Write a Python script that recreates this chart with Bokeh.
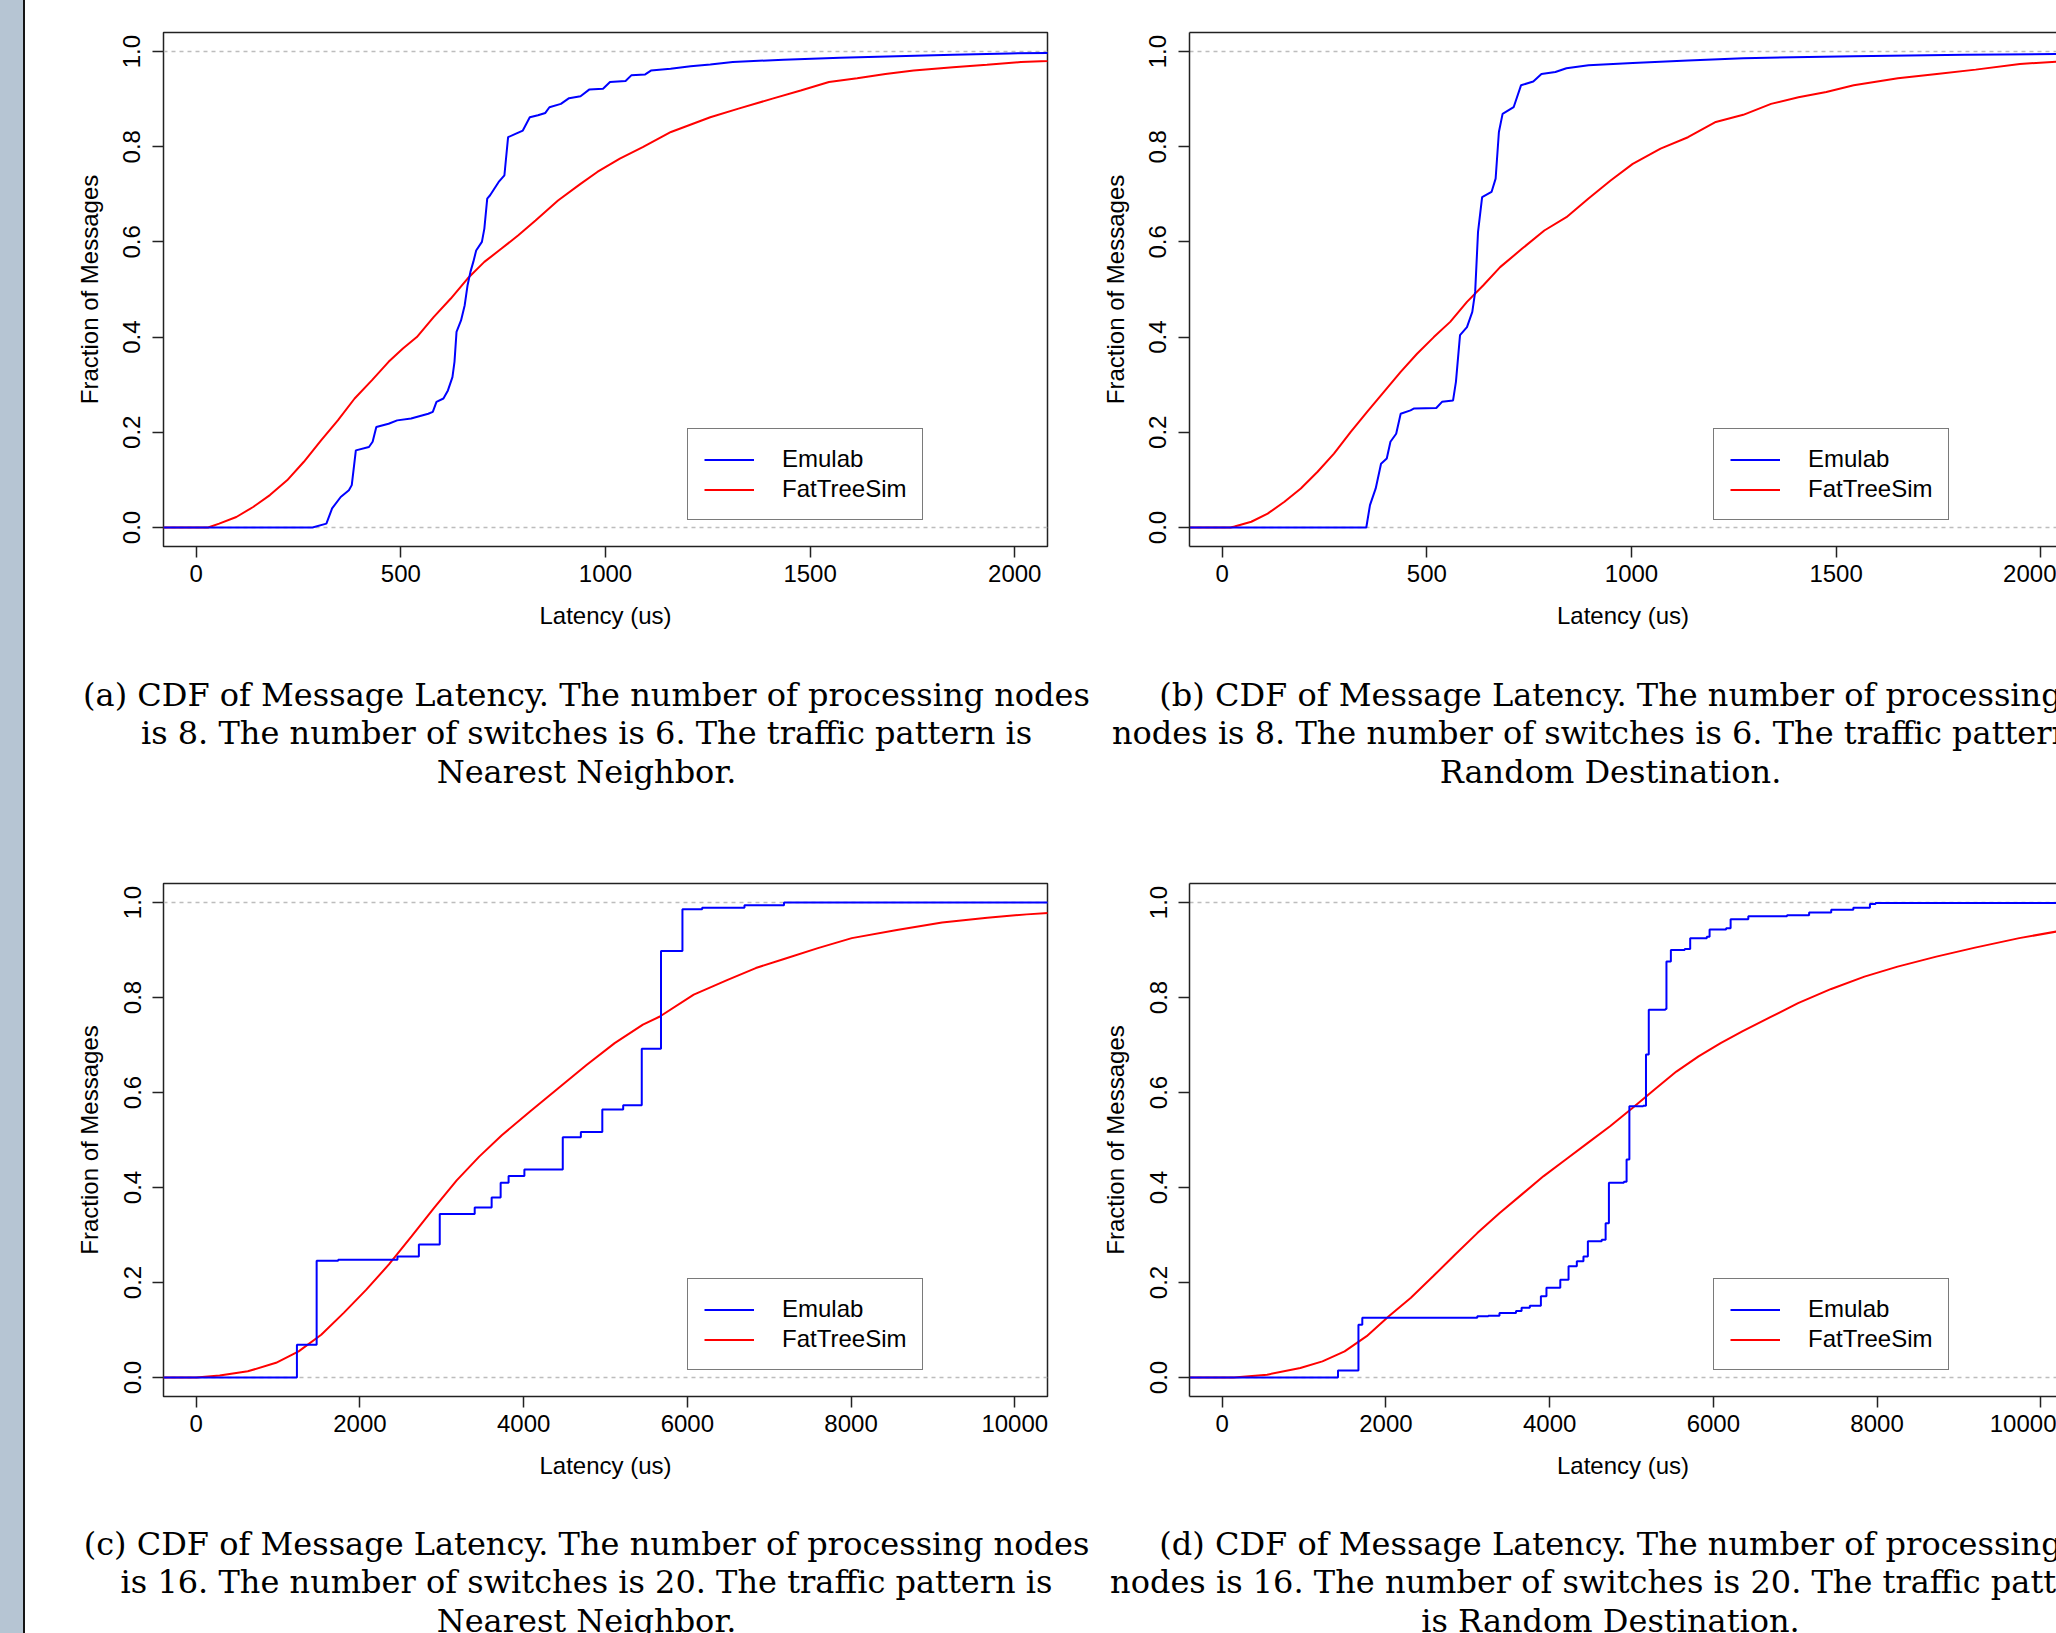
from bokeh.plotting import figure
from bokeh.models import (Range1d, FixedTicker, PrintfTickFormatter, Span, Legend,
                          LegendItem, LinearAxis, Div)
from bokeh.layouts import row, column
from bokeh.embed import file_html
from bokeh.resources import INLINE
from bokeh.core.properties import value

# ---------------- data ----------------
series_names = ["Emulab", "FatTreeSim"]
y_ticks = [0.0, 0.2, 0.4, 0.6, 0.8, 1.0]
x_ticks_small = [0, 500, 1000, 1500, 2000]
x_ticks_large = [0, 2000, 4000, 6000, 8000, 10000]

# (a) 8 nodes, 6 switches, Nearest Neighbor
a_emu_x = [-100, 284, 318, 332, 353, 373, 380, 390, 422, 431, 440, 470, 491, 525, 567, 578, 587, 604,
           615, 626, 631, 636, 647, 656, 663, 670, 677, 684, 698, 704, 711, 718, 739, 753, 762, 780,
           798, 815, 835, 853, 863, 891, 911, 939, 960, 994, 1011, 1049, 1063, 1097, 1111, 1159,
           1208, 1256, 1311, 1435, 1573, 1711, 1849, 1987, 2081, 2200]
a_emu_y = [0, 0, 0.008, 0.04, 0.064, 0.078, 0.089, 0.162, 0.169, 0.18, 0.211, 0.218, 0.225, 0.229,
           0.239, 0.243, 0.264, 0.271, 0.288, 0.316, 0.348, 0.411, 0.435, 0.467, 0.509, 0.537, 0.558,
           0.582, 0.600, 0.628, 0.691, 0.698, 0.726, 0.740, 0.820, 0.827, 0.834, 0.862, 0.866, 0.871,
           0.883, 0.890, 0.902, 0.906, 0.920, 0.922, 0.936, 0.938, 0.950, 0.952, 0.960, 0.964, 0.969,
           0.973, 0.978, 0.983, 0.987, 0.990, 0.993, 0.996, 0.997, 0.998]
a_fts_x = [-100, 29, 56, 98, 139, 180, 222, 263, 305, 346, 387, 429, 470, 505, 539, 580, 622, 663,
           704, 746, 787, 829, 884, 939, 980, 1035, 1091, 1160, 1256, 1325, 1408, 1477, 1546, 1615,
           1684, 1753, 1849, 1932, 2015, 2081, 2200]
a_fts_y = [0, 0, 0.008, 0.022, 0.043, 0.068, 0.099, 0.138, 0.183, 0.225, 0.271, 0.309, 0.348, 0.376,
           0.400, 0.442, 0.481, 0.523, 0.558, 0.586, 0.614, 0.645, 0.687, 0.722, 0.747, 0.775, 0.799,
           0.831, 0.862, 0.880, 0.901, 0.918, 0.936, 0.944, 0.953, 0.960, 0.967, 0.972, 0.978, 0.980,
           0.984]

# (b) 8 nodes, 6 switches, Random Destination
b_emu_x = [-100, 352, 361, 375, 388, 402, 411, 425, 436, 460, 469, 523, 537, 564, 571, 581, 598, 611,
           618, 625, 635, 658, 668, 676, 685, 712, 730, 760, 780, 814, 841, 895, 1003, 1138, 1273,
           1543, 1814, 2040, 2200]
b_emu_y = [0, 0, 0.047, 0.082, 0.134, 0.145, 0.180, 0.197, 0.239, 0.246, 0.250, 0.251, 0.264, 0.267,
           0.306, 0.404, 0.421, 0.453, 0.495, 0.621, 0.694, 0.705, 0.733, 0.831, 0.869, 0.883, 0.929,
           0.937, 0.953, 0.957, 0.965, 0.971, 0.976, 0.981, 0.986, 0.990, 0.993, 0.995, 0.996]
b_fts_x = [-100, 20, 30, 71, 111, 152, 192, 233, 273, 314, 354, 395, 436, 476, 517, 557, 598, 638,
           679, 733, 787, 841, 895, 949, 1003, 1071, 1138, 1206, 1273, 1341, 1408, 1476, 1543, 1651,
           1746, 1841, 1949, 2041, 2200]
b_fts_y = [0, 0, 0.002, 0.012, 0.029, 0.054, 0.082, 0.117, 0.155, 0.201, 0.243, 0.285, 0.327, 0.365,
           0.400, 0.432, 0.474, 0.509, 0.547, 0.586, 0.624, 0.652, 0.691, 0.729, 0.764, 0.796, 0.820,
           0.852, 0.867, 0.890, 0.904, 0.915, 0.929, 0.944, 0.953, 0.962, 0.974, 0.979, 0.985]

# (c) 16 nodes, 20 switches, Nearest Neighbor (Emulab is a step CDF)
c_emu_x = [-500, 1230, 1471, 1734, 2458, 2720, 2975, 3402, 3609, 3719, 3816, 4009, 4478, 4699, 4961,
           5216, 5443, 5678, 5940, 6181, 6698, 7181, 11000]
c_emu_y = [0, 0.069, 0.246, 0.248, 0.255, 0.280, 0.344, 0.358, 0.379, 0.410, 0.424, 0.438, 0.506,
           0.517, 0.564, 0.573, 0.692, 0.898, 0.986, 0.989, 0.994, 1.0, 1.0]
c_fts_x = [-500, 0, 286, 630, 975, 1251, 1527, 1802, 2078, 2354, 2630, 2906, 3182, 3457, 3733, 4078,
           4423, 4768, 5112, 5457, 5664, 6078, 6492, 6836, 7181, 7595, 8009, 8560, 9112, 9664, 10146,
           10408, 11000]
c_fts_y = [0, 0, 0.004, 0.013, 0.031, 0.055, 0.090, 0.136, 0.185, 0.238, 0.297, 0.357, 0.415, 0.465,
           0.51, 0.56, 0.609, 0.658, 0.704, 0.743, 0.760, 0.806, 0.837, 0.862, 0.881, 0.904, 0.925,
           0.942, 0.958, 0.968, 0.975, 0.978, 0.983]

# (d) 16 nodes, 20 switches, Random Destination (Emulab is a step CDF)
d_emu_x = [-500, 1414, 1664, 1711, 3116, 3251, 3387, 3589, 3657, 3758, 3893, 3961, 4130, 4231, 4332,
           4413, 4467, 4636, 4684, 4724, 4907, 4940, 4974, 5143, 5177, 5211, 5414, 5427, 5481, 5650,
           5717, 5920, 5954, 6156, 6211, 6427, 6900, 7170, 7440, 7710, 7913, 7981, 11000]
d_emu_y = [0, 0.015, 0.111, 0.126, 0.129, 0.130, 0.136, 0.140, 0.147, 0.151, 0.171, 0.189, 0.206,
           0.234, 0.245, 0.255, 0.287, 0.290, 0.325, 0.410, 0.412, 0.459, 0.571, 0.572, 0.680, 0.774,
           0.776, 0.876, 0.900, 0.902, 0.925, 0.928, 0.943, 0.946, 0.965, 0.971, 0.973, 0.979, 0.985,
           0.989, 0.997, 0.999, 1.0]
d_fts_x = [-500, 143, 549, 954, 1224, 1495, 1765, 2035, 2305, 2576, 2846, 3116, 3386, 3657, 3927,
           4197, 4467, 4738, 5008, 5278, 5548, 5819, 6089, 6359, 6630, 7035, 7440, 7846, 8251, 8724,
           9197, 9737, 10197, 11000]
d_fts_y = [0, 0, 0.006, 0.020, 0.034, 0.055, 0.087, 0.129, 0.168, 0.213, 0.259, 0.304, 0.346, 0.385,
           0.424, 0.459, 0.494, 0.529, 0.567, 0.606, 0.644, 0.676, 0.704, 0.729, 0.753, 0.788, 0.818,
           0.844, 0.865, 0.886, 0.905, 0.925, 0.939, 0.95]

x_label = "Latency (us)"
y_label = "Fraction of Messages"

captions_top = [
    ["(a) CDF of Message Latency. The number of processing nodes",
     "is 8. The number of switches is 6. The traffic pattern is",
     "Nearest Neighbor."],
    ["(b) CDF of Message Latency. The number of processing",
     "nodes is 8. The number of switches is 6. The traffic pattern is",
     "Random Destination."],
]
captions_bottom = [
    ["(c) CDF of Message Latency. The number of processing nodes",
     "is 16. The number of switches is 20. The traffic pattern is",
     "Nearest Neighbor."],
    ["(d) CDF of Message Latency. The number of processing",
     "nodes is 16. The number of switches is 20. The traffic pattern",
     "is Random Destination."],
]

# ---------------- styling / layout constants ----------------
SANS = "Liberation Sans"
FS = "24px"
SERIF = "DejaVu Serif"
CAP_FS = "32px"
BLUE = "#0000ff"
RED = "#ff0000"
FRAME_W = 884          # frame width of an uncut panel
BAR_W = 25
LEFT_W, RIGHT_W = 1055, 976
TOP_H, BOT_H = 650, 640
CAP_TOP_H, CAP_BOT_H = 210, 133


def panel(width, height, mb_left, mb_right, mb_top, mb_bottom, xmax, xticks,
          emu_x, emu_y, fts_x, fts_y, emu_step, cut):
    frame_w = width - mb_left - mb_right
    x0 = -0.04 * xmax
    span = 1.08 * xmax * frame_w / FRAME_W
    p = figure(width=width, height=height,
               x_range=Range1d(x0, x0 + span), y_range=Range1d(-0.04, 1.04),
               output_backend="svg", toolbar_location=None,
               min_border_left=mb_left, min_border_right=mb_right,
               min_border_top=mb_top, min_border_bottom=mb_bottom)
    p.grid.visible = False
    p.background_fill_color = "white"
    p.border_fill_color = "white"

    for ax in (p.xaxis[0], p.yaxis[0]):
        ax.major_label_text_font = SANS
        ax.major_label_text_font_size = FS
        ax.major_label_text_color = "black"
        ax.axis_label_text_font = SANS
        ax.axis_label_text_font_size = FS
        ax.axis_label_text_font_style = "normal"
        ax.axis_label_text_color = "black"
        ax.major_tick_out = 11
        ax.major_tick_in = 0
        ax.major_tick_line_color = "#222222"
        ax.major_tick_line_width = 1.5
        ax.minor_tick_line_color = None
    p.xaxis.ticker = FixedTicker(ticks=xticks)
    p.xaxis.formatter = PrintfTickFormatter(format="%d")
    p.xaxis.axis_label = x_label
    p.xaxis.major_label_standoff = 7
    p.xaxis.axis_label_standoff = 17
    p.yaxis.ticker = FixedTicker(ticks=y_ticks)
    p.yaxis.formatter = PrintfTickFormatter(format="%.1f")
    p.yaxis.major_label_orientation = "vertical"
    p.yaxis.axis_label = y_label
    p.yaxis.major_label_standoff = 12
    p.yaxis.axis_label_standoff = 18

    if cut:
        p.outline_line_color = None
        for ax in (p.xaxis[0], p.yaxis[0]):
            ax.axis_line_color = "#222222"
            ax.axis_line_width = 1.5
        top = LinearAxis(ticker=FixedTicker(ticks=[]), axis_line_color="#222222",
                         axis_line_width=1.5, major_tick_line_color=None,
                         minor_tick_line_color=None, major_label_text_font_size="0px")
        p.add_layout(top, "above")
    else:
        p.outline_line_color = "#222222"
        p.outline_line_width = 1.5
        p.xaxis.axis_line_color = None
        p.yaxis.axis_line_color = None

    for loc in (0.0, 1.0):
        p.add_layout(Span(location=loc, dimension="width", line_color="#bdbdbd",
                          line_dash="4 4", line_width=1.5, level="underlay"))

    r_fts = p.line(fts_x, fts_y, line_color=RED, line_width=2)
    if emu_step:
        r_emu = p.step(emu_x, emu_y, mode="after", line_color=BLUE, line_width=2)
    else:
        r_emu = p.line(emu_x, emu_y, line_color=BLUE, line_width=2)

    legend = Legend(items=[LegendItem(label=series_names[0], renderers=[r_emu]),
                           LegendItem(label=series_names[1], renderers=[r_fts])],
                    location=(524, 26), padding=16, spacing=2, margin=0,
                    glyph_width=50, glyph_height=27, label_height=27, label_standoff=28,
                    label_text_font=SANS, label_text_font_size=FS, label_text_color="black",
                    border_line_color="#7a7a7a", border_line_width=1.3, border_line_alpha=1.0,
                    background_fill_color="white", background_fill_alpha=1.0)
    p.add_layout(legend)
    return p


def caption_fig(width, height, centers, baselines, lines):
    c = figure(width=width, height=height, x_range=Range1d(0, width), y_range=Range1d(height, 0),
               output_backend="svg", toolbar_location=None, x_axis_type=None, y_axis_type=None,
               min_border=0, outline_line_color=None)
    c.grid.visible = False
    xs, ys, ts = [], [], []
    for cx, block in zip(centers, lines):
        for by, t in zip(baselines, block):
            xs.append(cx)
            ys.append(by)
            ts.append(t)
    c.text(x=xs, y=ys, text=ts, text_align="center", text_baseline="alphabetic",
           text_font=value(SERIF), text_font_size=CAP_FS, text_color="black")
    return c


fa = panel(LEFT_W, TOP_H, 138, 33, 32, 104, 2000, x_ticks_small,
           a_emu_x, a_emu_y, a_fts_x, a_fts_y, False, False)
fb = panel(RIGHT_W, TOP_H, 109, 0, 32, 104, 2000, x_ticks_small,
           b_emu_x, b_emu_y, b_fts_x, b_fts_y, False, True)
fc = panel(LEFT_W, BOT_H, 138, 33, 23, 104, 10000, x_ticks_large,
           c_emu_x, c_emu_y, c_fts_x, c_fts_y, True, False)
fd = panel(RIGHT_W, BOT_H, 109, 0, 23, 104, 10000, x_ticks_large,
           d_emu_x, d_emu_y, d_fts_x, d_fts_y, True, True)

cap_centers = [561, 1585]
cap_top = caption_fig(LEFT_W + RIGHT_W, CAP_TOP_H, cap_centers, [44, 82.5, 121], captions_top)
cap_bot = caption_fig(LEFT_W + RIGHT_W, CAP_BOT_H, cap_centers, [43, 81.5, 120], captions_bottom)

total_h = TOP_H + CAP_TOP_H + BOT_H + CAP_BOT_H
bar = Div(text="", width=BAR_W, height=total_h, margin=(0, 0, 0, 0),
          styles={"background": "linear-gradient(to right, #b6c5d3 0px, #b6c5d3 23px, "
                                 "#151515 23px, #151515 25px)"})

main = column(row(fa, fb), cap_top, row(fc, fd), cap_bot)
page = row(bar, main)

open("out.html", "w").write(file_html(page, INLINE))
